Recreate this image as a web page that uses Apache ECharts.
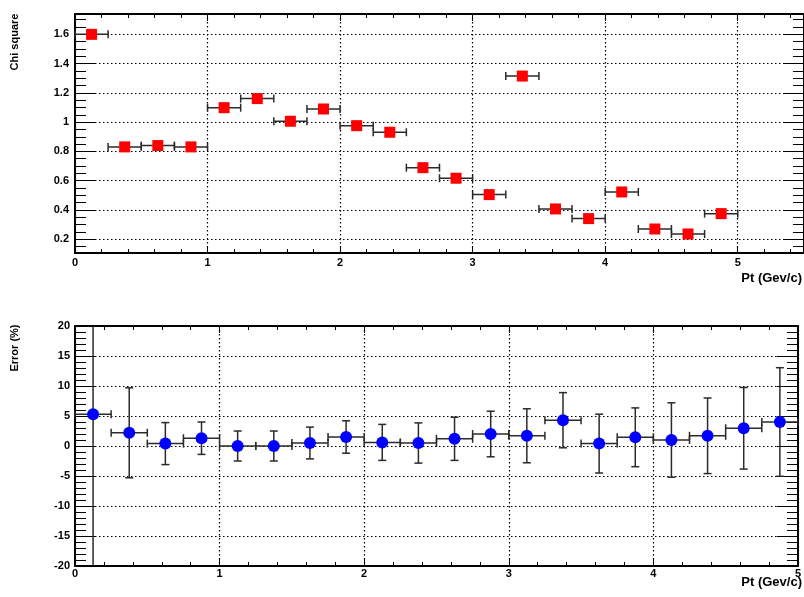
<!DOCTYPE html>
<html><head><meta charset="utf-8">
<script src="https://cdn.jsdelivr.net/npm/echarts@6/dist/echarts.min.js"></script>
<style>html,body{margin:0;padding:0;background:#fff}#c{width:804px;height:597px}</style>
</head><body><div id="c"></div>
<script>
// ---- data ----
const ptCenters   = [0.125, 0.375, 0.625, 0.875, 1.125, 1.375, 1.625, 1.875, 2.125, 2.375,
                     2.625, 2.875, 3.125, 3.375, 3.625, 3.875, 4.125, 4.375, 4.625, 4.875];
const ptHalfWidth = [0.125, 0.125, 0.125, 0.125, 0.125, 0.125, 0.125, 0.125, 0.125, 0.125,
                     0.125, 0.125, 0.125, 0.125, 0.125, 0.125, 0.125, 0.125, 0.125, 0.125];
const chiSquare   = [1.600, 0.831, 0.840, 0.831, 1.099, 1.161, 1.006, 1.090, 0.976, 0.931,
                     0.689, 0.617, 0.505, 1.315, 0.407, 0.341, 0.523, 0.270, 0.236, 0.375];
const errorPct    = [5.3, 2.2, 0.4, 1.3, 0.0, 0.0, 0.5, 1.5, 0.6, 0.5,
                     1.2, 2.0, 1.7, 4.3, 0.4, 1.45, 1.0, 1.7, 2.95, 4.0];
const errorPctErr = [30, 7.5, 3.5, 2.7, 2.5, 2.5, 2.65, 2.7, 3.0, 3.35,
                     3.6, 3.8, 4.5, 4.6, 4.9, 4.9, 6.2, 6.3, 6.8, 9.05];
const topXRange    = [0, 5.5];
const topYRange    = [0.106, 1.739];
const bottomXRange = [0, 5];
const bottomYRange = [-20, 20];
const topYTitle    = 'Chi square';
const bottomYTitle = 'Error (%)';
const xTitle       = 'Pt (Gev/c)';

// ---- styles ----
const FONT = 'Liberation Sans';
const lbl = { fontFamily: FONT, fontWeight: 'bold', fontSize: 11, color: '#000' };
const frameLine = { show: true, onZero: false, lineStyle: { color: '#000', width: 2 } };
const dotted = { show: true, lineStyle: { color: '#000', width: 1.2, type: [1.5, 2.5] } };
const barColor = '#2a2a2a';

function xAx(gridIndex, position, range, showLabel, margin) {
  return {
    type: 'value', gridIndex, position, min: range[0], max: range[1], interval: 1,
    axisLine: frameLine,
    axisTick: { show: true, inside: true, length: 7, lineStyle: { color: '#000', width: 1 } },
    minorTick: { show: true, splitNumber: 5, length: 4, lineStyle: { color: '#000', width: 1 } },
    axisLabel: Object.assign({ show: showLabel, margin: margin, showMaxLabel: range[1] % 1 === 0 }, lbl),
    splitLine: showLabel ? dotted : { show: false }
  };
}
function yAx(gridIndex, position, range, opts, showLabel, margin, showEnds) {
  return Object.assign({
    type: 'value', gridIndex, position, min: range[0], max: range[1],
    axisLine: frameLine,
    axisTick: { show: true, inside: true, length: 21, lineStyle: { color: '#000', width: 1 } },
    minorTick: { show: true, length: 11, lineStyle: { color: '#000', width: 1 } },
    axisLabel: Object.assign({ show: showLabel, margin: margin, showMinLabel: showEnds, showMaxLabel: showEnds }, lbl),
    splitLine: showLabel ? dotted : { show: false }
  }, opts);
}

const topOpts = { splitNumber: 8, minorTick: { show: true, splitNumber: 4, length: 11, lineStyle: { color: '#000', width: 1 } } };
const botOpts = { interval: 5, minorTick: { show: true, splitNumber: 5, length: 11, lineStyle: { color: '#000', width: 1 } } };

function errRender(params, api) {
  const x = api.value(0), y = api.value(1), ex = api.value(2), ey = api.value(3);
  const cs = params.coordSys;
  const top = cs.y, bot = cs.y + cs.height;
  const style = { stroke: barColor, lineWidth: 1.5 };
  const cap = 4;
  const ch = [];
  const pl = api.coord([x - ex, y]), pr = api.coord([x + ex, y]);
  ch.push({ type: 'line', shape: { x1: pl[0], y1: pl[1], x2: pr[0], y2: pr[1] }, style });
  ch.push({ type: 'line', shape: { x1: pl[0], y1: pl[1] - cap, x2: pl[0], y2: pl[1] + cap }, style });
  ch.push({ type: 'line', shape: { x1: pr[0], y1: pr[1] - cap, x2: pr[0], y2: pr[1] + cap }, style });
  if (ey > 0) {
    const pt = api.coord([x, y + ey]), pb = api.coord([x, y - ey]);
    let y1 = pt[1], y2 = pb[1];
    const c1 = y1 < top, c2 = y2 > bot;
    y1 = Math.max(y1, top); y2 = Math.min(y2, bot);
    ch.push({ type: 'line', shape: { x1: pt[0], y1: y1, x2: pt[0], y2: y2 }, style });
    if (!c1) ch.push({ type: 'line', shape: { x1: pt[0] - cap, y1: y1, x2: pt[0] + cap, y2: y1 }, style });
    if (!c2) ch.push({ type: 'line', shape: { x1: pb[0] - cap, y1: y2, x2: pb[0] + cap, y2: y2 }, style });
  }
  return { type: 'group', children: ch };
}

const topData = ptCenters.map((x, i) => [x, chiSquare[i], ptHalfWidth[i], 0]);
const botData = ptCenters.map((x, i) => [x, errorPct[i], ptHalfWidth[i], errorPctErr[i]]);

const titleStyle = { fontFamily: FONT, fontWeight: 'bold', fill: '#000' };

const option = {
  animation: false,
  backgroundColor: '#fff',
  grid: [
    { left: 75, top: 14, width: 729, height: 239 },
    { left: 75, top: 326, width: 728, height: 240 }
  ],
  xAxis: [
    xAx(0, 'bottom', topXRange, true, 4),
    xAx(0, 'top', topXRange, false, 4),
    xAx(1, 'bottom', bottomXRange, true, 2),
    xAx(1, 'top', bottomXRange, false, 2)
  ],
  yAxis: [
    yAx(0, 'left', topYRange, topOpts, true, 6, false),
    yAx(0, 'right', topYRange, topOpts, false, 6, false),
    yAx(1, 'left', bottomYRange, Object.assign({}, botOpts), true, 5, true),
    yAx(1, 'right', bottomYRange, Object.assign({}, botOpts), false, 5, true)
  ],
  series: [
    { type: 'custom', xAxisIndex: 0, yAxisIndex: 0, z: 2, renderItem: errRender, data: topData, silent: true },
    { type: 'scatter', xAxisIndex: 0, yAxisIndex: 0, z: 3, symbol: 'rect', symbolSize: 11,
      itemStyle: { color: '#ff0000', opacity: 1 }, data: topData.map(d => [d[0], d[1]]) },
    { type: 'custom', xAxisIndex: 2, yAxisIndex: 2, z: 2, renderItem: errRender, data: botData, silent: true },
    { type: 'scatter', xAxisIndex: 2, yAxisIndex: 2, z: 3, symbol: 'circle', symbolSize: 12,
      itemStyle: { color: '#0000ff', opacity: 1 }, data: botData.map(d => [d[0], d[1]]) }
  ],
  graphic: [
    { type: 'text', x: 15, y: 42, rotation: Math.PI / 2,
      style: Object.assign({ text: topYTitle, fontSize: 11, align: 'center', verticalAlign: 'middle' }, titleStyle) },
    { type: 'text', x: 15, y: 348, rotation: Math.PI / 2,
      style: Object.assign({ text: bottomYTitle, fontSize: 11, align: 'center', verticalAlign: 'middle' }, titleStyle) },
    { type: 'text', x: 802, y: 278,
      style: Object.assign({ text: xTitle, fontSize: 13, align: 'right', verticalAlign: 'middle' }, titleStyle) },
    { type: 'text', x: 802, y: 582,
      style: Object.assign({ text: xTitle, fontSize: 13, align: 'right', verticalAlign: 'middle' }, titleStyle) }
  ]
};
const chart = echarts.init(document.getElementById('c'), null, { renderer: 'canvas' });
chart.setOption(option);
</script>
</body></html>
